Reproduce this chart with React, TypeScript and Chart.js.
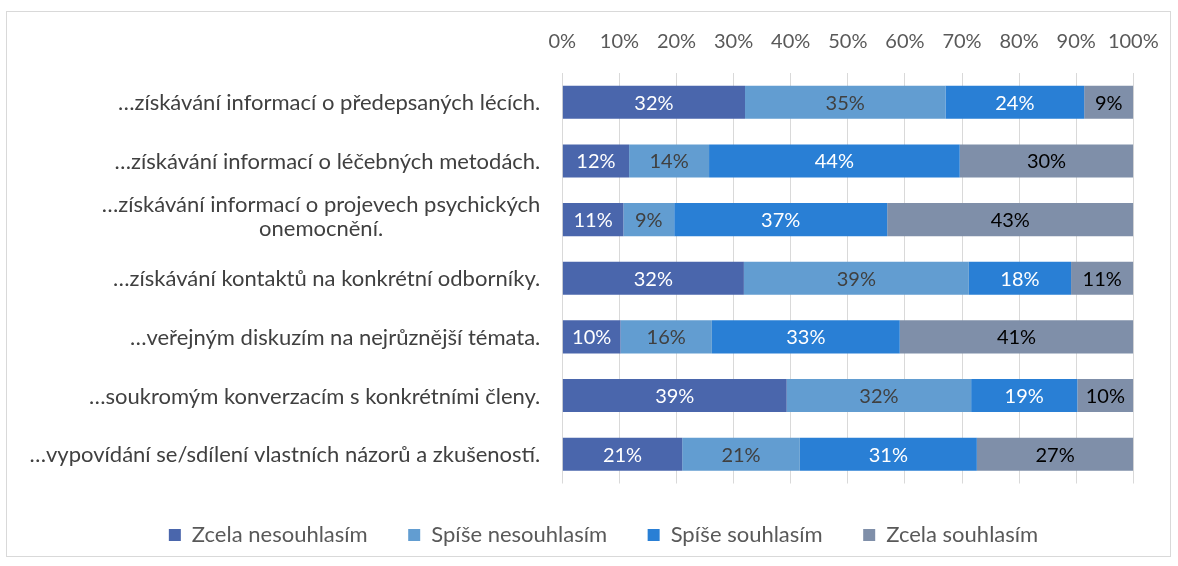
import React, { useEffect, useRef } from "react";
import { Chart, registerables } from "chart.js";

Chart.register(...registerables);

const categories: string[][] = [
  ["…získávání informací o předepsaných lécích."],
  ["…získávání informací o léčebných metodách."],
  ["…získávání informací o projevech psychických", "onemocnění."],
  ["…získávání kontaktů na konkrétní odborníky."],
  ["…veřejným diskuzím na nejrůznější témata."],
  ["…soukromým konverzacím s konkrétními členy."],
  ["…vypovídání se/sdílení vlastních názorů a zkušeností."],
];

const seriesNames = ["Zcela nesouhlasím", "Spíše nesouhlasím", "Spíše souhlasím", "Zcela souhlasím"];

const zcelaNesouhlasim = [32.0, 11.7, 10.7, 31.8, 10.2, 39.3, 21.0];
const spiseNesouhlasim = [35.1, 14.0, 8.9, 39.4, 16.0, 32.3, 20.6];
const spiseSouhlasim = [24.3, 43.9, 37.3, 17.9, 32.9, 18.6, 31.0];
const zcelaSouhlasim = [8.6, 30.4, 43.1, 10.9, 40.9, 9.8, 27.4];

const xTicks = [0, 10, 20, 30, 40, 50, 60, 70, 80, 90, 100];

const colors = ["#4A66AC", "#629DD1", "#297FD5", "#7F8FA9"];
const labelColors = ["#FFFFFF", "#404040", "#FFFFFF", "#000000"];

const FONT = "Lato";
const FS_TEXT = 22;
const FS_NUM = 20;

const dataLabelPlugin = {
  id: "dataLabels",
  afterDatasetsDraw(chart: any) {
    const ctx = chart.ctx;
    ctx.save();
    ctx.font = `${FS_NUM}px ${FONT}`;
    ctx.textAlign = "center";
    ctx.textBaseline = "middle";
    chart.data.datasets.forEach((ds: any, di: number) => {
      const meta = chart.getDatasetMeta(di);
      meta.data.forEach((el: any, i: number) => {
        const p = el.getProps(["x", "base", "y"], true);
        ctx.fillStyle = labelColors[di];
        ctx.fillText(Math.round(ds.data[i]) + "%", (p.x + p.base) / 2, p.y + 1);
      });
    });
    ctx.restore();
  },
};

const yLabelPlugin = {
  id: "yLabels",
  afterDraw(chart: any) {
    const ctx = chart.ctx;
    const y = chart.scales.y;
    ctx.save();
    ctx.font = `${FS_TEXT}px ${FONT}`;
    ctx.fillStyle = "#404040";
    ctx.textAlign = "center";
    ctx.textBaseline = "middle";
    const right = chart.chartArea.left - 22;
    const lh = 24;
    categories.forEach((lines, i) => {
      const cy = y.getPixelForValue(i);
      const maxW = Math.max(...lines.map((l) => ctx.measureText(l).width));
      lines.forEach((l, j) => {
        const off = lines.length > 1 ? -4 + (j - (lines.length - 1) / 2) * lh : 0;
        ctx.fillText(l, right - maxW / 2, cy + off + 1);
      });
    });
    ctx.restore();
  },
};

export default function App() {
  const ref = useRef<HTMLCanvasElement>(null);

  useEffect(() => {
    Chart.defaults.font.family = FONT;
    const chart = new Chart(ref.current as HTMLCanvasElement, {
      type: "bar",
      data: {
        labels: categories.map((c) => c.join(" ")),
        datasets: [zcelaNesouhlasim, spiseNesouhlasim, spiseSouhlasim, zcelaSouhlasim].map((d, i) => ({
          label: seriesNames[i],
          data: d,
          backgroundColor: colors[i],
          borderWidth: 0,
          barPercentage: 0.564,
          categoryPercentage: 1,
        })),
      },
      options: {
        indexAxis: "y",
        responsive: false,
        animation: false,
        layout: { padding: { left: 66.7, right: 36.7, top: 0, bottom: 0 } },
        scales: {
          x: {
            type: "linear",
            position: "top",
            stacked: true,
            min: 0,
            max: 100,
            afterBuildTicks(scale: any) {
              scale.ticks = xTicks.map((v) => ({ value: v }));
            },
            afterFit(scale: any) {
              scale.height = 61;
            },
            ticks: {
              padding: 0,
              color: "#595959",
              font: { size: FS_NUM, family: FONT },
              callback: (v: any) => v + "%",
              maxRotation: 0,
              autoSkip: false,
            },
            grid: {
              color: "#D9D9D9",
              lineWidth: 1,
              drawTicks: true,
              tickLength: 19,
              tickColor: "rgba(0,0,0,0)",
            },
            border: { display: false },
          },
          y: {
            type: "category",
            stacked: true,
            afterFit(scale: any) {
              scale.width = 488.6;
            },
            ticks: { display: false },
            grid: { display: false },
            border: { display: false },
          },
        },
        plugins: {
          legend: {
            position: "bottom",
            labels: {
              boxWidth: 12,
              boxHeight: 12,
              padding: 40.5,
              color: "#595959",
              font: { size: FS_TEXT, family: FONT },
            },
          },
          tooltip: { enabled: false },
        },
      },
      plugins: [dataLabelPlugin, yLabelPlugin],
    } as any);
    return () => chart.destroy();
  }, []);

  return (
    <div
      style={{
        position: "absolute",
        left: 6,
        top: 11,
        width: 1165,
        height: 546,
        border: "1px solid #D9D9D9",
        boxSizing: "border-box",
        background: "#fff",
      }}
    >
      <canvas ref={ref} width={1163} height={544} style={{ display: "block", width: 1163, height: 544 }} />
    </div>
  );
}
